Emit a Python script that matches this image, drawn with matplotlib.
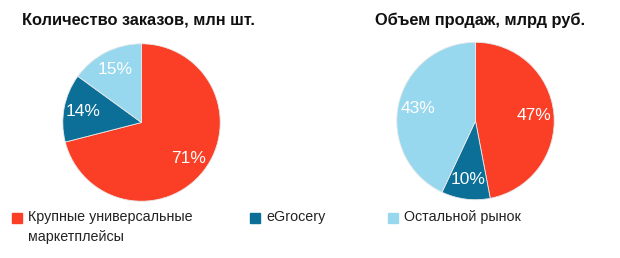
import matplotlib.pyplot as plt
from matplotlib.patches import Rectangle

plt.rcParams['font.family'] = ['Liberation Sans', 'DejaVu Sans']

categories = ['Крупные универсальные\nмаркетплейсы', 'eGrocery', 'Остальной рынок']
orders_share = [71, 14, 15]
sales_share = [47, 10, 43]
titles = ['Количество заказов, млн шт.', 'Объем продаж, млрд руб.']
colors = ['#FA3F26', '#0B6F97', '#98D8EE']

W, H = 620, 258
fig = plt.figure(figsize=(W / 100, H / 100), dpi=100)


def pie_axes(cx, cy, r):
    # pixel coords from top-left -> figure fraction
    return fig.add_axes([(cx - r) / W, (H - cy - r) / H, 2 * r / W, 2 * r / H])


for (cx, cy), vals, title, tx in zip([(141.5, 122.5), (475.5, 121)],
                                     [orders_share, sales_share], titles,
                                     [139, 480]):
    ax = pie_axes(cx, cy, 79.5)
    ax.pie(vals, colors=colors, startangle=90, counterclock=False,
           autopct='%d%%', pctdistance=0.75, radius=1,
           wedgeprops=dict(linewidth=0.6, edgecolor='#e8e8e8'),
           textprops=dict(color='white', fontsize=12.5))
    ax.set_xlim(-1.01, 1.01)
    ax.set_ylim(-1.01, 1.01)
    ax.set_aspect('equal')
    ax.axis('off')
    fig.text(tx / W, 1 - 20 / H, title, ha='center', va='center',
             fontsize=11.8, fontweight='bold', color='#111111')

# legend
legend_x = [12, 250, 388]
for x, c, label in zip(legend_x, colors, categories):
    fig.patches.append(Rectangle((x / W, 1 - 223 / H), 10 / W, 10 / H,
                                 color=c, transform=fig.transFigure))
    fig.text((x + 16) / W, 1 - 210 / H, label, ha='left', va='top',
             fontsize=10.3, color='#222222', linespacing=1.5)

fig.savefig('out.png', dpi=100)
